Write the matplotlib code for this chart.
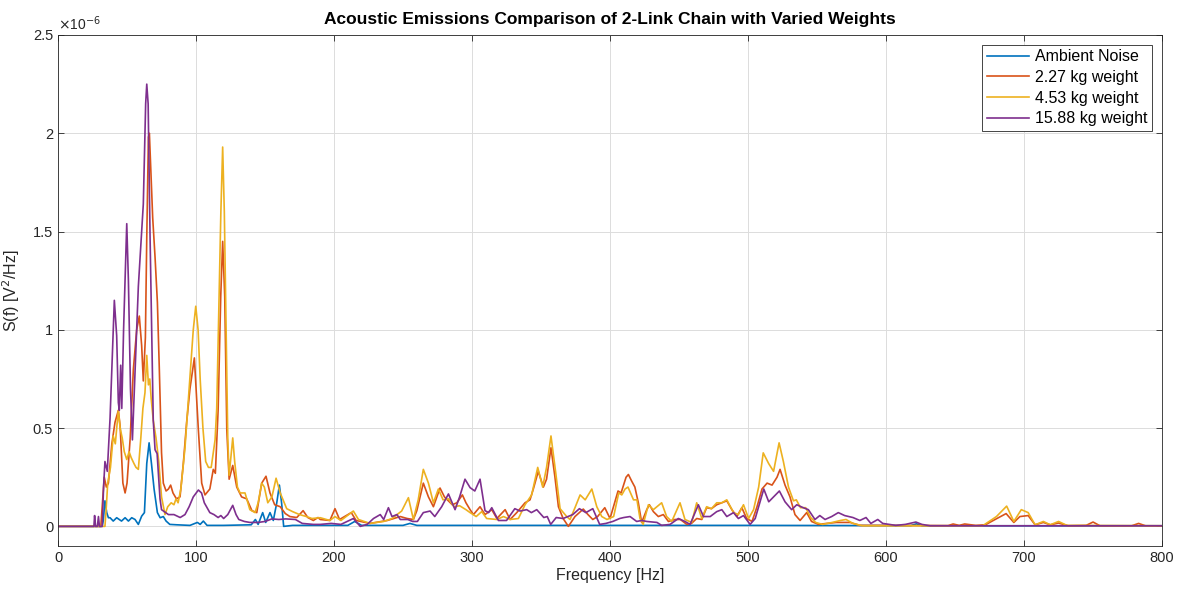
import matplotlib
matplotlib.use("Agg")
import matplotlib.pyplot as plt
from matplotlib.ticker import FuncFormatter
import numpy as np

plt.rcParams['font.family'] = ['Liberation Sans', 'DejaVu Sans']

title = "Acoustic Emissions Comparison of 2-Link Chain with Varied Weights"
xlabel = "Frequency [Hz]"
ylabel = "S(f) [V$^2$/Hz]"
labels = ["Ambient Noise", "2.27 kg weight", "4.53 kg weight", "15.88 kg weight"]
colors = ["#0072BD", "#D95319", "#EDB120", "#7E2F8E"]
xticks = [0, 100, 200, 300, 400, 500, 600, 700, 800]
yticks = [0, 0.5e-6, 1e-6, 1.5e-6, 2e-6, 2.5e-6]
scale = 1e-6  # values below are in units of 1e-6 V^2/Hz

# Ambient noise
f_amb = [0, 32, 32.8, 34, 35.3, 36.5, 37.7, 40, 42.5, 46, 48.6, 51, 53.4, 55.8, 58.2, 60.6, 62.6,
         64.3, 66, 67.7, 69.6, 72, 74, 76.3, 78.3, 81, 86, 95.6, 101, 103, 105.3, 108, 120, 140,
         143, 145, 148.3, 150.5, 153.6, 156, 158.5, 160.4, 162, 163.5, 170, 180, 210, 215, 220,
         250, 255, 260, 300, 400, 500, 600, 618, 622, 626, 700, 800]
v_amb = [0, 0, 0.03, 0.13, 0.07, 0.044, 0.044, 0.027, 0.044, 0.027, 0.044, 0.027, 0.044, 0.035, 0.01,
         0.052, 0.07, 0.32, 0.425, 0.32, 0.19, 0.07, 0.044, 0.05, 0.027, 0.01, 0.008, 0.005, 0.02,
         0.01, 0.027, 0.005, 0.005, 0.008, 0.035, 0.01, 0.07, 0.02, 0.07, 0.03, 0.12, 0.21, 0.12,
         0.0, 0.005, 0.005, 0.005, 0.025, 0.005, 0.005, 0.015, 0.005, 0.005, 0.005, 0.005, 0.004,
         0.004, 0.013, 0.003, 0.003, 0.003]

# 2.27 kg weight
f_w1 = [0, 31, 32.5, 33.5, 35, 36.5, 39, 41.3, 43.7, 45, 47, 48.6, 50, 52.3, 54.6, 57, 58.9, 60.6,
        61.8, 63.3, 64.3, 65.5, 66.2, 67.2, 68.6, 70.3, 72, 73.4, 75, 76.3, 78.3, 80, 81.6, 83.3,
        85.8, 88.4, 90.8, 93.2, 95.6, 98.8, 101.7, 104.1, 106.5, 110, 112.5, 114, 116, 117.9, 119.3,
        120.8, 122.3, 124, 126.6, 129.5, 133, 136.7, 140.5, 144, 147.6, 150.7, 153.6, 157, 161,
        164.7, 168, 173, 177.6, 181, 185, 188.4, 190, 197, 200.7, 204, 212.5, 216, 226, 238.6, 248,
        253, 257.5, 260, 264.7, 268.4, 272, 276.8, 280, 285.7, 289, 293, 295.6, 298.6, 301, 305.8,
        309.4, 314.3, 318, 324, 327.6, 332.4, 338.4, 342, 344.4, 348, 351.7, 354, 357.2, 360, 362.6,
        366, 369.8, 374.6, 380.6, 384, 387.5, 391, 396.2, 400, 405.8, 408, 411.6, 413.3, 415.7, 418,
        420.5, 422.9, 426.6, 428.5, 431.4, 435, 438.6, 442.3, 447, 451, 455.6, 459, 462.8, 466.5,
        470, 473.5, 477.3, 481, 484.6, 488.3, 491.9, 495.5, 499, 502.9, 506.5, 510.1, 513.8, 517.4,
        521, 523.2, 526.8, 530.4, 534, 537.7, 542.5, 546, 551, 557, 564, 574, 581, 600, 645, 648.6,
        653, 657, 665, 672, 679, 687, 692.6, 697, 703, 708, 714, 719, 725, 732, 745, 750, 755, 778,
        783, 788, 800]
v_w1 = [0, 0, 0.15, 0.25, 0.2, 0.22, 0.42, 0.53, 0.59, 0.51, 0.22, 0.17, 0.22, 0.45, 0.80, 1.0, 1.07,
        0.92, 0.74, 0.96, 1.47, 1.98, 2.0, 1.82, 1.57, 1.37, 1.14, 0.8, 0.375, 0.22, 0.18, 0.19, 0.21,
        0.17, 0.14, 0.15, 0.32, 0.53, 0.7, 0.857, 0.49, 0.22, 0.16, 0.19, 0.29, 0.27, 0.59, 1.17, 1.45,
        1.17, 0.49, 0.24, 0.31, 0.2, 0.15, 0.14, 0.08, 0.07, 0.22, 0.255, 0.17, 0.11, 0.1,
        0.065, 0.05, 0.045, 0.08, 0.045, 0.03, 0.045, 0.035, 0.03, 0.09, 0.035, 0.07, 0.03, 0.015, 0.03,
        0.05, 0.04, 0.035, 0.08, 0.22, 0.15, 0.1, 0.195, 0.15, 0.11, 0.12, 0.16, 0.12, 0.085, 0.06, 0.1,
        0.06, 0.085, 0.04, 0.085, 0.035, 0.07, 0.12, 0.135, 0.19, 0.28, 0.2, 0.24, 0.40, 0.255, 0.1,
        0.04, 0.0, 0.05, 0.088, 0.06, 0.035, 0.05, 0.095, 0.04, 0.18, 0.17, 0.25, 0.264, 0.23, 0.2,
        0.12, 0.02, 0.085, 0.11, 0.075, 0.05, 0.06, 0.025, 0.035, 0.035, 0.01, 0.015, 0.04, 0.035,
        0.095, 0.09, 0.11, 0.12, 0.13, 0.085, 0.05, 0.095, 0.04, 0.025, 0.1, 0.19, 0.22, 0.21,
        0.25, 0.29, 0.21, 0.15, 0.06, 0.03, 0.07, 0.025, 0.01, 0.015, 0.02, 0.02, 0.005, 0.005, 0.004,
        0.012, 0.005, 0.012, 0.005, 0.008, 0.035, 0.065, 0.02, 0.05, 0.055, 0.008, 0.02, 0.008, 0.017,
        0.003, 0.005, 0.022, 0.003, 0.003, 0.015, 0.003, 0.003]

# 4.53 kg weight
f_w2 = [0, 34, 35, 36, 38, 40, 41.5, 43.7, 45, 46.5, 48, 49.8, 51.5, 53, 55, 56.5, 58.2, 60, 61.5,
        63, 64.3, 65.5, 66.5, 67.5, 69, 71, 73, 75, 77.5, 79.5, 82, 84, 85.5, 87, 89, 92, 95, 98, 99.8,
        101.5, 103, 105, 107, 109, 111, 113.8, 115, 116.5, 118, 119.3, 120.5, 122, 123, 124, 126.6,
        128, 130, 131.9, 135.5, 139, 142.8, 145, 147.6, 149.5, 152, 155, 158, 161, 165.7, 170, 175,
        180, 184, 190, 197, 200.7, 205, 214, 217.7, 226, 236, 242, 249, 253.9, 257.5, 261, 264.7,
        268.4, 272, 275.6, 279, 283, 286.9, 291, 295.6, 298.6, 303, 307, 310.6, 318, 322.8, 327.6,
        333.6, 338.4, 343.2, 347.6, 351.2, 354, 357.2, 360.7, 363.8, 368.6, 371, 374.6, 378.3, 382,
        386.8, 390.4, 394, 397.8, 402.6, 406.3, 408.5, 410.9, 413, 417, 419.5, 421.7, 424, 427.8,
        431.4, 437.4, 441, 444.7, 450.7, 454.3, 459.2, 462.8, 466.5, 470, 473.5, 477.3, 481, 484.6,
        489.5, 493, 496.7, 500.4, 504, 507.7, 511, 514.9, 518.5, 522.5, 525.6, 529.3, 532.9, 535, 538,
        541.8, 545.4, 549, 554, 561, 567, 571, 576, 583, 670, 673, 680, 687.4, 692.6, 698, 703, 708,
        714, 719, 725, 731, 800]
v_w2 = [0, 0, 0.1, 0.22, 0.3, 0.46, 0.42, 0.59, 0.5, 0.45, 0.38, 0.34, 0.38, 0.35, 0.32, 0.3, 0.29,
        0.45, 0.6, 0.68, 0.87, 0.72, 0.75, 0.65, 0.54, 0.45, 0.33, 0.15, 0.06, 0.1, 0.12, 0.11, 0.14,
        0.12, 0.19, 0.4, 0.7, 1.0, 1.12, 1.0, 0.75, 0.5, 0.33, 0.3, 0.3, 0.44, 0.6, 1.1, 1.6, 1.93, 1.6,
        0.9, 0.45, 0.26, 0.45, 0.33, 0.2, 0.17, 0.17, 0.085, 0.07, 0.12, 0.22, 0.2, 0.12, 0.15, 0.245,
        0.17, 0.09, 0.075, 0.06, 0.05, 0.04, 0.044, 0.03, 0.05, 0.03, 0.078, 0.035, 0.015, 0.025, 0.04,
        0.078, 0.146, 0.035, 0.135, 0.29, 0.22, 0.12, 0.19, 0.135, 0.14, 0.1, 0.105, 0.085, 0.07, 0.05,
        0.075, 0.04, 0.035, 0.05, 0.035, 0.04, 0.11, 0.16, 0.30, 0.2, 0.3, 0.46, 0.27, 0.09, 0.05,
        0.035, 0.095, 0.16, 0.135, 0.19, 0.1, 0.05, 0.035, 0.05, 0.17, 0.16, 0.19, 0.2, 0.135, 0.135,
        0.04, 0.01, 0.11, 0.085, 0.12, 0.05, 0.025, 0.12, 0.035, 0.02, 0.12, 0.04, 0.1, 0.09, 0.12,
        0.12, 0.135, 0.07, 0.06, 0.11, 0.04, 0.085, 0.2, 0.374, 0.32, 0.28, 0.425, 0.33, 0.2, 0.13,
        0.135, 0.095, 0.095, 0.045, 0.02, 0.01, 0.02, 0.03, 0.035, 0.015, 0.003, 0.003, 0.017, 0.05,
        0.103, 0.025, 0.085, 0.07, 0.008, 0.025, 0.008, 0.025, 0.005, 0.003]

# 15.88 kg weight
f_w3 = [0, 26, 26.5, 27.2, 28.5, 29.3, 30, 32, 33, 34, 35.7, 37.7, 40.8, 42.5, 43.7, 44.4, 45.4,
        46.2, 47.5, 49.8, 51, 52.5, 53.9, 55.8, 58.2, 59.9, 61.8, 63.5, 64.3, 65.3, 66.7, 67.9, 69,
        70.3, 71.8, 73.9, 75, 80, 84, 88.5, 92, 95, 98, 101.7, 104, 106, 110, 113, 116, 118, 120, 123,
        126.6, 129, 131, 135, 139, 145, 150, 155, 160, 165, 172, 177, 185, 190, 198, 205, 214, 219,
        224, 228.6, 233.5, 236, 239.4, 242, 245.6, 248, 253.4, 257, 260.4, 264.7, 269.6, 273, 278,
        282.9, 287.7, 291, 294.9, 298.6, 302, 305.8, 309.4, 312, 314.3, 319.1, 325, 331, 334.8,
        339.6, 343, 346.9, 352, 354.5, 357, 361, 366, 373, 377.8, 382.5, 387.5, 392.5, 397, 402, 407,
        410, 414.5, 419.3, 423, 426.6, 434, 437.4, 443.5, 449.5, 454.3, 458, 464, 467.7, 472.6, 477.3,
        481, 484.6, 489.5, 493, 496.7, 501.5, 505.2, 511.4, 515, 518.5, 522.7, 526.8, 531.6, 535.3,
        540, 543.7, 548.5, 552, 555.8, 560.6, 565.4, 570, 576, 581, 585.5, 589, 594, 597.6, 602.5,
        607, 614, 621.6, 626, 632, 800]
v_w3 = [0, 0, 0.055, 0, 0, 0.05, 0, 0, 0.2, 0.33, 0.28, 0.55, 1.15, 0.97, 0.63, 0.59, 0.82,
        0.6, 1.0, 1.54, 1.25, 0.7, 0.44, 0.78, 1.22, 1.42, 1.64, 2.15, 2.25, 2.15, 1.47, 0.97, 0.54,
        0.39, 0.37, 0.14, 0.085, 0.06, 0.06, 0.045, 0.06, 0.1, 0.15, 0.185, 0.17, 0.12, 0.07, 0.06,
        0.045, 0.055, 0.04, 0.06, 0.107, 0.06, 0.035, 0.025, 0.02, 0.02, 0.025, 0.038, 0.035, 0.038,
        0.035, 0.015, 0.01, 0.01, 0.015, 0.01, 0.04, 0.0, 0.01, 0.04, 0.06, 0.035, 0.095, 0.05, 0.06,
        0.035, 0.035, 0.025, 0.025, 0.07, 0.078, 0.05, 0.1, 0.165, 0.085, 0.15, 0.24, 0.197, 0.18,
        0.24, 0.08, 0.07, 0.095, 0.03, 0.03, 0.09, 0.078, 0.085, 0.07, 0.085, 0.045, 0.05, 0.01,
        0.045, 0.04, 0.06, 0.09, 0.07, 0.09, 0.01, 0.015, 0.025, 0.04, 0.045, 0.05, 0.025, 0.03,
        0.025, 0.02, 0.005, 0.01, 0.04, 0.025, 0.01, 0.11, 0.05, 0.05, 0.075, 0.085, 0.05, 0.07,
        0.04, 0.055, 0.01, 0.04, 0.19, 0.125, 0.15, 0.18, 0.125, 0.085, 0.11, 0.095, 0.085, 0.035,
        0.055, 0.035, 0.05, 0.07, 0.055, 0.045, 0.03, 0.045, 0.015, 0.035, 0.015, 0.01, 0.005, 0.01,
        0.022, 0.01, 0.003, 0.003]

series = [(f_amb, v_amb), (f_w1, v_w1), (f_w2, v_w2), (f_w3, v_w3)]

fig = plt.figure(figsize=(11.77, 5.91), dpi=100)
ax = fig.add_axes([0.0493, 0.0761, 0.9380, 0.8647])

for (f, v), lab, c in zip(series, labels, colors):
    ax.plot(np.array(f), np.array(v) * scale, color=c, lw=1.2, label=lab)

ax.set_xlim(0, 800)
ax.set_ylim(-0.1e-6, 2.5e-6)
ax.set_xticks(xticks)
ax.set_yticks(yticks)
ax.yaxis.set_major_formatter(FuncFormatter(lambda y, pos: "%g" % round(y / scale, 6)))
ax.text(0.0, 1.004, r"$\times$10$^{-6}$", transform=ax.transAxes, fontsize=10,
        color="#262626", ha="left", va="bottom")

ax.grid(True, color="#dcdcdc", lw=0.7)
ax.set_axisbelow(True)
ax.tick_params(direction="in", length=4, width=0.6, labelsize=10.5, colors="#262626",
               top=True, right=True)
ax.tick_params(labeltop=False, labelright=False)
for s in ax.spines.values():
    s.set_linewidth(0.6)
    s.set_color("#262626")

ax.set_title(title, fontsize=12.5, fontweight="bold", pad=8)
ax.set_xlabel(xlabel, fontsize=11.5, color="#262626", labelpad=2)
ax.set_ylabel(ylabel, fontsize=11.5, color="#262626", labelpad=8)

leg = ax.legend(loc="upper right", fontsize=11.5, fancybox=False, framealpha=1,
                edgecolor="#262626", borderaxespad=0.6, handlelength=2.6,
                handletextpad=0.4, borderpad=0.3, labelspacing=0.35)
leg.get_frame().set_linewidth(0.6)

fig.savefig("out.png", dpi=100)
